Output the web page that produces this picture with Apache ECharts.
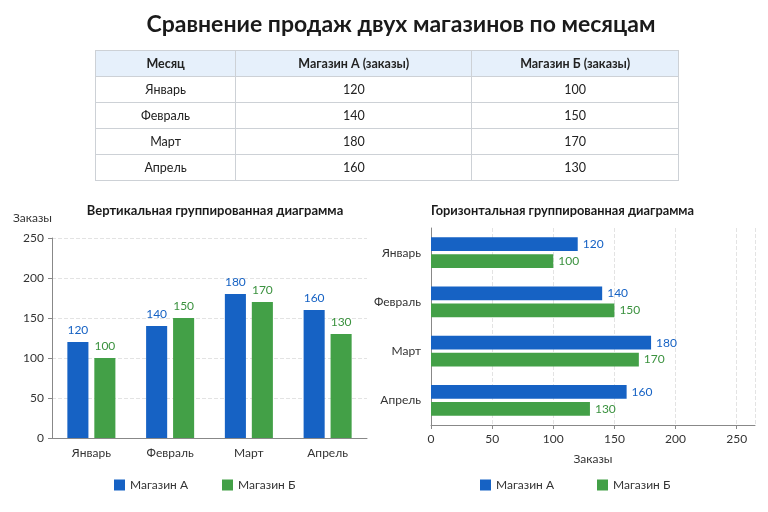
<!DOCTYPE html>
<html>
<head>
<meta charset="utf-8">
<script src="https://cdn.jsdelivr.net/npm/echarts@6/dist/echarts.min.js"></script>
<style>
  html, body { margin: 0; padding: 0; background: #fff; }
  #wrap { position: relative; width: 768px; height: 512px; font-family: Lato, 'Noto Sans', sans-serif; }
  #chart { position: absolute; left: 0; top: 0; width: 768px; height: 512px; }
  #title { position: absolute; left: 17px; top: 9px; width: 768px; text-align: center; font-size: 23px; font-weight: bold; color: #1a1a1a; }
  #tbl { position: absolute; left: 95px; top: 50px; width: 584px; border-collapse: collapse; font-size: 12.5px; color: #222; }
  #tbl th, #tbl td { border: 1px solid #cdd1d6; height: 25px; padding: 0; text-align: center; }
  #tbl th { background: #e6f0fb; font-weight: bold; }
</style>
</head>
<body>
<div id="wrap">
  <div id="chart"></div>
  <div id="title">Сравнение продаж двух магазинов по месяцам</div>
  <table id="tbl"></table>
</div>
<script>
var months = ['Январь', 'Февраль', 'Март', 'Апрель'];
var storeA = [120, 140, 180, 160];
var storeB = [100, 150, 170, 130];
var seriesNames = ['Магазин А', 'Магазин Б'];
var tableHead = ['Месяц', 'Магазин А (заказы)', 'Магазин Б (заказы)'];
var colWidths = ['140px', '237px', '207px'];

var blue = '#1662c4';
var green = '#43a047';

// таблица
var tbl = document.getElementById('tbl');
var html = '<tr>';
tableHead.forEach(function (h, i) {
  html += '<th style="width:' + colWidths[i] + '">' + h + '</th>';
});
html += '</tr>';
months.forEach(function (m, i) {
  html += '<tr><td>' + m + '</td><td>' + storeA[i] + '</td><td>' + storeB[i] + '</td></tr>';
});
tbl.innerHTML = html;

var font = 'Lato';
var axisLineStyle = { color: '#888', width: 1 };
var splitLineStyle = { color: '#e3e3e3', type: 'dashed' };

var chart = echarts.init(document.getElementById('chart'));
chart.setOption({
  textStyle: { fontFamily: font },
  animation: false,
  title: [{
    text: 'Вертикальная группированная диаграмма',
    left: 210, top: 199, textAlign: 'center',
    textStyle: { fontSize: 13, fontWeight: 'bold', color: '#1a1a1a', fontFamily: font }
  }, {
    text: 'Горизонтальная группированная диаграмма',
    left: 426, top: 199,
    textStyle: { fontSize: 12.8, fontWeight: 'bold', color: '#1a1a1a', fontFamily: font }
  }],
  legend: [{
    data: seriesNames,
    left: 109, top: 474,
    itemWidth: 11, itemHeight: 11, itemGap: 34, icon: 'rect',
    textStyle: { fontSize: 12, color: '#333', fontFamily: font }
  }, {
    data: seriesNames,
    left: 475, top: 474,
    itemWidth: 11, itemHeight: 11, itemGap: 43, icon: 'rect',
    textStyle: { fontSize: 12, color: '#333', fontFamily: font }
  }],
  grid: [
    { left: 52, right: 401, top: 238, bottom: 74 },
    { left: 431, right: 13, top: 228, bottom: 87 }
  ],
  xAxis: [{
    gridIndex: 0,
    type: 'category',
    data: months,
    axisLine: { lineStyle: axisLineStyle },
    axisTick: { show: false },
    axisLabel: { color: '#333', fontSize: 12, margin: 9 }
  }, {
    gridIndex: 1,
    type: 'value',
    min: 0, max: 265, interval: 50,
    name: 'Заказы', nameLocation: 'middle', nameGap: 28,
    nameTextStyle: { color: '#333', fontSize: 12 },
    axisLine: { show: true, lineStyle: axisLineStyle },
    axisTick: { show: true, length: 4, lineStyle: axisLineStyle },
    axisLabel: { color: '#333', fontSize: 12, showMaxLabel: false },
    splitLine: { show: true, lineStyle: splitLineStyle }
  }],
  yAxis: [{
    gridIndex: 0,
    type: 'value',
    min: 0, max: 250, interval: 50,
    name: 'Заказы', nameLocation: 'end', nameGap: 14,
    nameTextStyle: { color: '#333', fontSize: 12, align: 'right' },
    axisLine: { show: true, lineStyle: axisLineStyle },
    axisTick: { show: true, length: 4, lineStyle: axisLineStyle },
    axisLabel: { color: '#333', fontSize: 12 },
    splitLine: { show: true, lineStyle: splitLineStyle }
  }, {
    gridIndex: 1,
    type: 'category',
    data: months,
    inverse: true,
    axisLine: { show: true, lineStyle: axisLineStyle },
    axisTick: { show: false },
    axisLabel: { color: '#333', fontSize: 12, margin: 10 }
  }],
  series: [{
    name: seriesNames[0], type: 'bar',
    xAxisIndex: 0, yAxisIndex: 0,
    data: storeA,
    barGap: '28%', barCategoryGap: '39%',
    itemStyle: { color: blue },
    label: { show: true, position: 'top', color: blue, fontSize: 12, distance: 6 }
  }, {
    name: seriesNames[1], type: 'bar',
    xAxisIndex: 0, yAxisIndex: 0,
    data: storeB,
    itemStyle: { color: green },
    label: { show: true, position: 'top', color: '#3b923f', fontSize: 12, distance: 6 }
  }, {
    name: seriesNames[0], type: 'bar',
    xAxisIndex: 1, yAxisIndex: 1,
    data: storeA,
    barGap: '25%', barCategoryGap: '38%',
    itemStyle: { color: blue },
    label: { show: true, position: 'right', color: blue, fontSize: 12, distance: 5 }
  }, {
    name: seriesNames[1], type: 'bar',
    xAxisIndex: 1, yAxisIndex: 1,
    data: storeB,
    itemStyle: { color: green },
    label: { show: true, position: 'right', color: '#3b923f', fontSize: 12, distance: 5 }
  }]
});
</script>
</body>
</html>
